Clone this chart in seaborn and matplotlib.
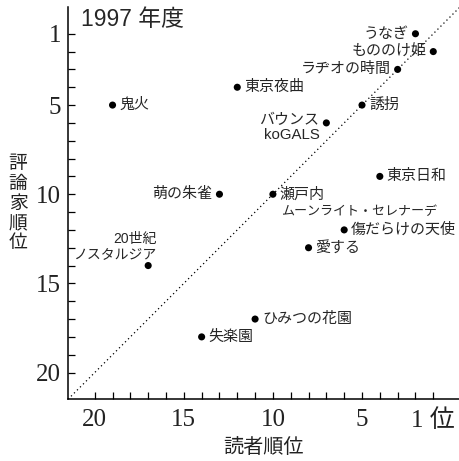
import matplotlib
matplotlib.use('Agg')
import matplotlib.pyplot as plt
import seaborn as sns
import pandas as pd

# reader rank (x) and critic rank (y) per film, 1997
titles = ['うなぎ', 'もののけ姫', 'ラヂオの時間', '東京夜曲', '誘拐', 'バウンス\nkoGALS',
          '東京日和', '瀬戸内\nムーンライト・セレナーデ', '鬼火', '萌の朱雀', '傷だらけの天使',
          '愛する', '20世紀\nノスタルジア', '失楽園', 'ひみつの花園']
reader_rank = [2, 1, 3, 12, 5, 7, 4, 10, 19, 13, 6, 8, 17, 14, 11]
critic_rank = [1, 2, 3, 4, 5, 6, 9, 10, 5, 10, 12, 13, 14, 18, 17]
# where the label sits relative to its dot
label_side = ['left', 'left', 'left', 'right', 'right', 'left2', 'right', 'right2',
              'right', 'left', 'right', 'right', 'above', 'right', 'right']

major_ticks = [20, 15, 10, 5, 1]
x_tick_labels = ['20', '15', '10', '5', '1 位']
y_tick_labels = ['20', '15', '10', '5', '1']

df = pd.DataFrame({'title': titles, 'reader': reader_rank, 'critic': critic_rank})

sns.set_style('ticks')
plt.rcParams['font.family'] = ['Liberation Sans', 'Noto Sans CJK JP', 'DejaVu Sans']

fig = plt.figure(figsize=(4.6, 4.61), dpi=100)
ax = fig.add_axes([68 / 460, 1 - 399.3 / 461, (460 - 68) / 460, (399.3 - 7) / 461])

lo, hi = 21.5, -0.5
ax.plot([lo, hi], [lo, hi], color='black', lw=0.9, linestyle=(0, (1, 2.4)), zorder=1)

sns.scatterplot(data=df, x='reader', y='critic', color='black', s=26,
                edgecolor='none', ax=ax, zorder=3)

lab_font = ['Liberation Sans', 'Noto Sans CJK JP']
fs = 10.8
for t, xv, yv, side in zip(titles, reader_rank, critic_rank, label_side):
    if side == 'left':
        ax.annotate(t, (xv, yv), xytext=(-5, 0), textcoords='offset points',
                    ha='right', va='center', fontsize=fs, family=lab_font)
    elif side == 'right':
        ax.annotate(t, (xv, yv), xytext=(5, 0), textcoords='offset points',
                    ha='left', va='center', fontsize=fs, family=lab_font)
    elif side == 'left2':
        ax.annotate(t, (xv, yv), xytext=(-5, 7), textcoords='offset points',
                    ha='right', va='top', fontsize=fs, family=lab_font,
                    multialignment='right', linespacing=1.1)
    elif side == 'right2':
        first, second = t.split('\n')
        ax.annotate(first, (xv, yv), xytext=(5, 0), textcoords='offset points',
                    ha='left', va='center', fontsize=fs, family=lab_font)
        # long katakana line, narrower in the original's proportional font
        ax.annotate(second, (xv, yv), xytext=(6, -13), textcoords='offset points',
                    ha='left', va='center', fontsize=9.4, family=lab_font)
    else:
        ax.annotate(t, (xv, yv), xytext=(6, 3), textcoords='offset points',
                    ha='right', va='bottom', fontsize=10, family=lab_font,
                    multialignment='right', linespacing=1.1)

ax.set_xlim(lo, hi)
ax.set_ylim(lo, hi)
ax.set_xticks(major_ticks)
ax.set_xticklabels(x_tick_labels)
ax.set_yticks(major_ticks)
ax.set_yticklabels(y_tick_labels)
ax.set_xticks(range(1, 21), minor=True)
ax.set_yticks(range(1, 21), minor=True)
ax.tick_params(which='both', direction='in', length=5, width=0.9, color='black')
ax.tick_params(axis='x', which='major', pad=7)
ax.tick_params(axis='y', which='major', pad=5)
for lbl in ax.get_xticklabels() + ax.get_yticklabels():
    lbl.set_family(['Liberation Serif', 'Noto Sans CJK JP'])
    lbl.set_fontsize(18)
    lbl.set_color('#222222')

sns.despine(ax=ax)
for s in ['left', 'bottom']:
    ax.spines[s].set_linewidth(1.1)
    ax.spines[s].set_color('black')

ax.set_xlabel('')
ax.set_ylabel('')
fig.text(263 / 460, 1 - 447 / 461, '読者順位', ha='center', va='center',
         fontsize=14.5, family=['Noto Sans CJK JP'], color='#222222')
fig.text(18 / 460, 1 - 203 / 461, '評\n論\n家\n順\n位', ha='center', va='center',
         fontsize=13.5, family=['Noto Sans CJK JP'], color='#222222', linespacing=0.92)

ax.text(0.033, 0.967, '1997 年度', transform=ax.transAxes, ha='left', va='center',
        fontsize=16.5, family=lab_font)

fig.savefig('out.png', dpi=100)
